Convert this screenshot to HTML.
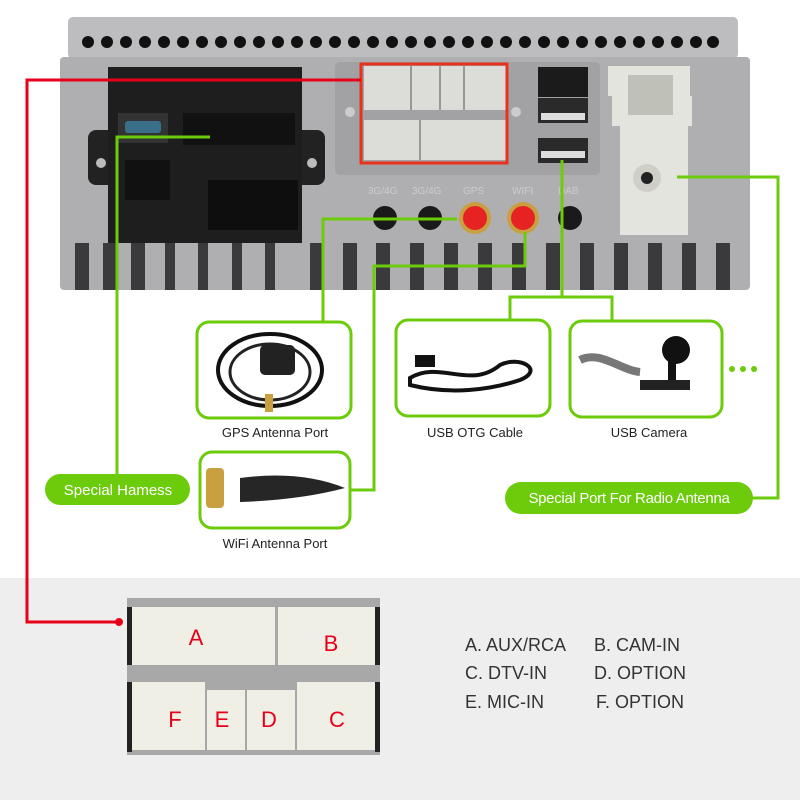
<!DOCTYPE html>
<html><head><meta charset="utf-8"><style>
html,body{margin:0;padding:0;background:#fff}
svg{display:block}
text{font-family:"Liberation Sans",Arial,sans-serif}
</style></head><body>
<svg width="800" height="800" viewBox="0 0 800 800" xmlns="http://www.w3.org/2000/svg">
<rect width="800" height="800" fill="#fff"/>
<rect x="0" y="578" width="800" height="222" fill="#efeeee"/>

<rect x="68" y="17" width="670" height="42" rx="5" fill="#bdbdbf"/>
<g fill="#111">
<circle cx="88" cy="42" r="6"/><circle cx="107" cy="42" r="6"/><circle cx="126" cy="42" r="6"/><circle cx="145" cy="42" r="6"/><circle cx="164" cy="42" r="6"/><circle cx="183" cy="42" r="6"/><circle cx="202" cy="42" r="6"/><circle cx="221" cy="42" r="6"/><circle cx="240" cy="42" r="6"/><circle cx="259" cy="42" r="6"/><circle cx="278" cy="42" r="6"/><circle cx="297" cy="42" r="6"/><circle cx="316" cy="42" r="6"/><circle cx="335" cy="42" r="6"/><circle cx="354" cy="42" r="6"/><circle cx="373" cy="42" r="6"/><circle cx="392" cy="42" r="6"/><circle cx="411" cy="42" r="6"/><circle cx="430" cy="42" r="6"/><circle cx="449" cy="42" r="6"/><circle cx="468" cy="42" r="6"/><circle cx="487" cy="42" r="6"/><circle cx="506" cy="42" r="6"/><circle cx="525" cy="42" r="6"/><circle cx="544" cy="42" r="6"/><circle cx="563" cy="42" r="6"/><circle cx="582" cy="42" r="6"/><circle cx="601" cy="42" r="6"/><circle cx="620" cy="42" r="6"/><circle cx="639" cy="42" r="6"/><circle cx="658" cy="42" r="6"/><circle cx="677" cy="42" r="6"/><circle cx="696" cy="42" r="6"/><circle cx="713" cy="42" r="6"/>
</g>
<rect x="60" y="57" width="690" height="233" rx="4" fill="#afafb1"/>
<g fill="#3a3a3c">
<rect x="75" y="243" width="14" height="47"/><rect x="103" y="243" width="14" height="47"/><rect x="131" y="243" width="14" height="47"/><rect x="165" y="243" width="10" height="47"/><rect x="198" y="243" width="10" height="47"/><rect x="232" y="243" width="10" height="47"/><rect x="265" y="243" width="10" height="47"/><rect x="310" y="243" width="14" height="47"/><rect x="343" y="243" width="14" height="47"/><rect x="376" y="243" width="14" height="47"/><rect x="410" y="243" width="14" height="47"/><rect x="444" y="243" width="14" height="47"/><rect x="478" y="243" width="14" height="47"/><rect x="512" y="243" width="14" height="47"/><rect x="546" y="243" width="14" height="47"/><rect x="580" y="243" width="14" height="47"/><rect x="614" y="243" width="14" height="47"/><rect x="648" y="243" width="14" height="47"/><rect x="682" y="243" width="14" height="47"/><rect x="716" y="243" width="14" height="47"/>
</g>
<rect x="88" y="130" width="237" height="55" rx="8" fill="#222"/>
<rect x="108" y="67" width="194" height="176" fill="#1e1e1f"/>
<rect x="118" y="113" width="50" height="30" fill="#333"/>
<rect x="125" y="121" width="36" height="12" rx="3" fill="#3a6f8a"/>
<rect x="183" y="113" width="112" height="32" fill="#111"/>
<rect x="125" y="160" width="45" height="40" fill="#111"/>
<rect x="208" y="180" width="90" height="50" fill="#0e0e0e"/>
<circle cx="101" cy="163" r="5" fill="#bbb"/><circle cx="312" cy="163" r="5" fill="#bbb"/>
<rect x="335" y="62" width="265" height="113" rx="5" fill="#a2a2a4"/>
<rect x="364" y="66" width="142" height="44" fill="#dcdcd8"/>
<rect x="364" y="120" width="142" height="40" fill="#dcdcd8"/>
<g stroke="#999" stroke-width="2">
<line x1="411" y1="66" x2="411" y2="110"/><line x1="440" y1="66" x2="440" y2="110"/><line x1="464" y1="66" x2="464" y2="110"/><line x1="420" y1="120" x2="420" y2="160"/>
</g>
<circle cx="350" cy="112" r="5" fill="#ccc"/><circle cx="516" cy="112" r="5" fill="#ccc"/>
<rect x="361" y="64" width="146" height="99" fill="none" stroke="#e8321e" stroke-width="3"/>
<rect x="538" y="67" width="50" height="30" fill="#1b1b1b"/>
<rect x="538" y="98" width="50" height="25" fill="#2a2a2a"/>
<rect x="541" y="113" width="44" height="7" fill="#ddd"/>
<rect x="538" y="138" width="50" height="25" fill="#2a2a2a"/>
<rect x="541" y="151" width="44" height="7" fill="#ddd"/>
<rect x="608" y="66" width="82" height="30" fill="#e4e4df"/>
<rect x="612" y="96" width="80" height="30" fill="#e4e4df"/>
<rect x="620" y="120" width="68" height="115" fill="#e4e4df"/>
<rect x="628" y="75" width="45" height="40" fill="#bfc0b8"/>
<circle cx="647" cy="178" r="14" fill="#cfcfc8"/><circle cx="647" cy="178" r="6" fill="#222"/>
<text x="368" y="194" font-size="10" fill="#ccc">3G/4G</text>
<text x="412" y="194" font-size="10" fill="#ccc">3G/4G</text>
<text x="463" y="194" font-size="10" fill="#ccc">GPS</text>
<text x="512" y="194" font-size="10" fill="#ccc">WIFI</text>
<text x="558" y="194" font-size="10" fill="#ccc">DAB</text>
<circle cx="385" cy="218" r="12" fill="#1a1a1a"/>
<circle cx="430" cy="218" r="12" fill="#1a1a1a"/>
<circle cx="475" cy="218" r="16" fill="#c8a040"/><circle cx="475" cy="218" r="12" fill="#e62222"/>
<circle cx="523" cy="218" r="16" fill="#c8a040"/><circle cx="523" cy="218" r="12" fill="#e62222"/>
<circle cx="570" cy="218" r="12" fill="#1a1a1a"/>

<polyline points="361,80 27,80 27,622 118,622" fill="none" stroke="#e8001a" stroke-width="3"/>
<circle cx="119" cy="622" r="4" fill="#e8001a"/>

<g fill="none" stroke="#6ccb0a" stroke-width="3">
<polyline points="210,137 117,137 117,477"/>
<polyline points="457,219 323,219 323,322"/>
<polyline points="525,232 525,266 374,266 374,490 350,490"/>
<polyline points="562,160 562,297"/>
<polyline points="510,322 510,297 612,297 612,322"/>
<polyline points="677,177 778,177 778,498 752,498"/>
</g>

<g fill="#fff" stroke="#6ccb0a" stroke-width="3">
<rect x="197" y="322" width="154" height="96" rx="12"/>
<rect x="396" y="320" width="154" height="96" rx="12"/>
<rect x="570" y="321" width="152" height="96" rx="12"/>
<rect x="200" y="452" width="150" height="76" rx="12"/>
</g>
<ellipse cx="270" cy="370" rx="52" ry="36" fill="none" stroke="#111" stroke-width="4"/>
<ellipse cx="270" cy="372" rx="40" ry="28" fill="none" stroke="#222" stroke-width="3"/>
<rect x="260" y="345" width="35" height="30" rx="5" fill="#222"/>
<rect x="265" y="394" width="8" height="18" fill="#c8a040"/>
<path d="M410 378 C440 360 470 390 500 365 C520 355 545 370 520 380 C490 390 450 395 410 385Z" fill="none" stroke="#111" stroke-width="4"/>
<rect x="415" y="355" width="20" height="12" fill="#111"/>
<path d="M580 360 C600 350 620 370 640 372" stroke="#777" stroke-width="8" fill="none"/>
<circle cx="676" cy="350" r="14" fill="#111"/>
<rect x="668" y="360" width="8" height="25" fill="#111"/>
<rect x="640" y="380" width="50" height="10" fill="#222"/>
<circle cx="732" cy="369" r="3" fill="#6ccb0a"/><circle cx="743" cy="369" r="3" fill="#6ccb0a"/><circle cx="754" cy="369" r="3" fill="#6ccb0a"/>
<path d="M240 478 Q300 470 345 488 Q300 500 240 502Z" fill="#262626"/>
<rect x="206" y="468" width="18" height="40" rx="4" fill="#c8a040"/>

<g font-size="13" fill="#222" text-anchor="middle">
<text x="275" y="437">GPS Antenna Port</text>
<text x="475" y="437">USB OTG Cable</text>
<text x="649" y="437">USB Camera</text>
<text x="275" y="548">WiFi Antenna Port</text>
</g>
<rect x="45" y="474" width="145" height="31" rx="15.5" fill="#6ccb0a"/>
<text x="118" y="495" font-size="15" fill="#fff" text-anchor="middle">Special Hamess</text>
<rect x="505" y="482" width="248" height="32" rx="16" fill="#6ccb0a"/>
<text x="629" y="503" font-size="15" fill="#fff" text-anchor="middle" letter-spacing="-0.3">Special Port For Radio Antenna</text>

<rect x="127" y="598" width="253" height="157" fill="#a8a8a8"/>
<rect x="132" y="607" width="143" height="58" fill="#f0efe6"/>
<rect x="278" y="607" width="97" height="58" fill="#f0efe6"/>
<rect x="132" y="682" width="73" height="68" fill="#f0efe6"/>
<rect x="207" y="690" width="38" height="60" fill="#f0efe6"/>
<rect x="247" y="690" width="48" height="60" fill="#f0efe6"/>
<rect x="297" y="682" width="78" height="68" fill="#f0efe6"/>
<rect x="127" y="607" width="5" height="58" fill="#222"/><rect x="375" y="607" width="5" height="58" fill="#222"/>
<rect x="127" y="682" width="5" height="70" fill="#222"/><rect x="375" y="682" width="5" height="70" fill="#222"/>
<g font-size="22" fill="#e8001a" text-anchor="middle">
<text x="196" y="645">A</text><text x="331" y="651">B</text>
<text x="175" y="727">F</text><text x="222" y="727">E</text><text x="269" y="727">D</text><text x="337" y="727">C</text>
</g>
<g font-size="18" fill="#333">
<text x="465" y="651">A. AUX/RCA</text><text x="594" y="651">B. CAM-IN</text>
<text x="465" y="679">C. DTV-IN</text><text x="594" y="679">D. OPTION</text>
<text x="465" y="708">E. MIC-IN</text><text x="596" y="708">F. OPTION</text>
</g>
</svg>
</body></html>
